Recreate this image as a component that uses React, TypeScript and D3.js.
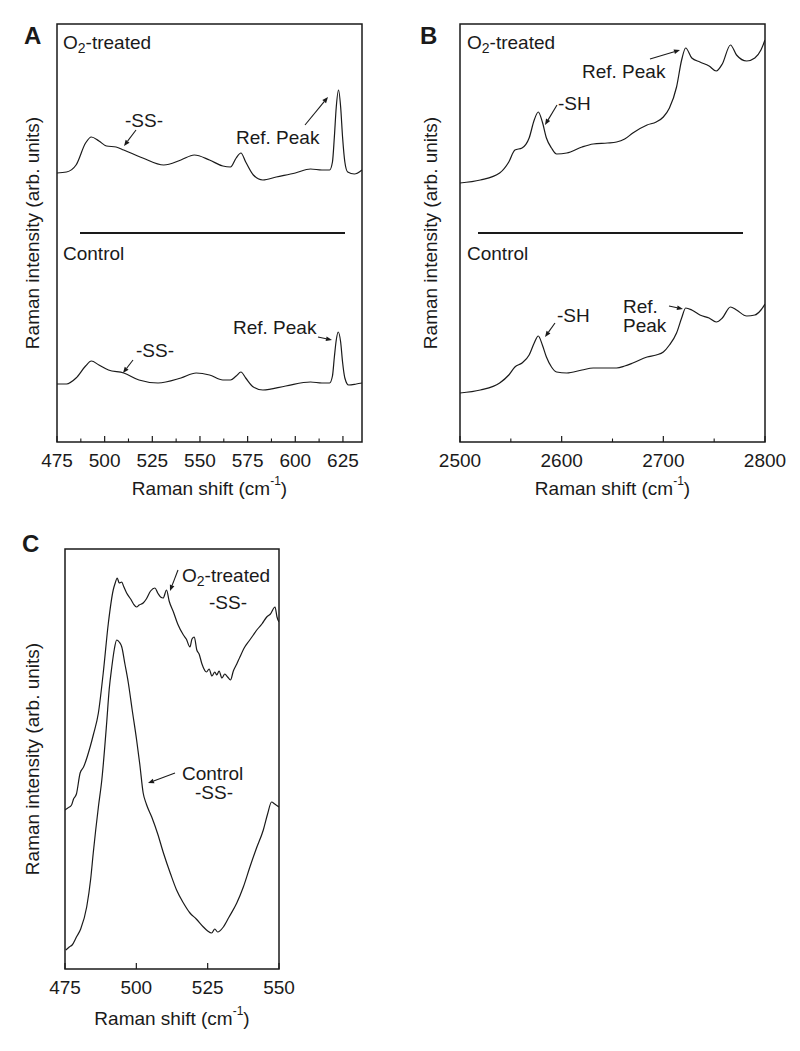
import React from "react";
import * as d3 from "d3";

// ---------- Data (arb. units) ----------
const aO2X = [475,480,485,490,493,497,501,506,510,520,531,540,547,555,562,566,569,571.5,574,578,583,590,600,608,614,618,619.5,620.5,621.5,622.7,623.8,624.8,626,627.5,631,635];
const aO2Y = [269,270,277,299,305,301,296,295,292,284,277,282,287,282,276,275,284,289,280,267,262,265,269,273,272,272,280,305,335,352,335,305,280,270,268,272];
const aCtX = [475,480,485,490,493,497,502,510,518,528,540,548,555,562,566,569,571.5,574,578,583,595,608,614,618,619.5,620.5,621.5,622.5,623.8,624.8,626,628,632,635];
const aCtY = [58,58,64,76,81,77,72,69,62,59,64,69,67,62,62,66,70,64,55,52,56,60,59,59,66,85,102,110,100,80,64,57,58,59];

const bO2X = [2500,2520,2539,2548,2554,2561,2568,2573,2577,2581,2585,2590,2595,2605,2620,2631,2645,2654,2662,2670,2684,2693,2700,2706,2713,2718,2722,2728,2736,2745,2752,2758,2766,2772,2782,2790,2796,2800];
const bO2Y = [259,262,269,280,292,294,304,322,330,320,304,294,288,289,295,298,299,300,303,309,317,320,325,334,355,382,394,384,380,376,371,378,397,387,381,384,392,402];
const bCtX = [2500,2520,2539,2548,2554,2561,2568,2573,2577,2581,2585,2590,2595,2605,2620,2631,2654,2662,2670,2684,2693,2700,2706,2713,2718,2722,2728,2736,2745,2752,2758,2766,2772,2782,2790,2796,2800];
const bCtY = [49,52,59,67,75,79,87,99,106,97,85,75,70,69,72,74,74,76,79,85,87,90,97,109,124,134,132,127,124,120,124,135,132,126,127,132,138];

const cO2X = [475,476,477.3,478,479,480.3,481.5,483.8,485,486.7,488.4,490.2,491.9,492.6,493.3,494,494.9,495.5,496.6,498,499,500.1,501,502.4,503.5,505,506.5,507.5,508.5,509.4,510.6,511.5,513,514.5,516.5,517.5,518.8,519.5,520.3,521.2,522,523,524.6,525.5,526.5,527.5,528.2,529,530,531,532,533,534,535.2,536.3,538,539.5,541,542.5,544,545.7,547,548.6,549.3,550];
const cO2Y = [159,161,164,170,175,196,202,222,235,256,296,346,379,386,391,386,387,383,376,370,365,362,364,366,370,378,381,376,372,371,379,368,357,345,334,330,322,330,332,319,315,305,297,300,293,297,294,298,291,295,292,289,298,305,312,322,328,334,340,345,352,355,362,352,347];
const cCtX = [475.3,476.5,477.5,479,480.5,482.6,484,484.9,486.7,487.9,489.6,490.5,491.4,492.3,493.1,494,494.9,496,497.2,498.5,500.1,501.2,502.4,503.5,505.4,507.5,509.5,512,514.1,516.5,518.8,521,523.5,525,526.4,527.5,528.5,530.5,532.5,535.2,537.5,539.8,542,544.5,546,547.4,548.5,550];
const cCtY = [19,22,24,32,40,62,90,116,162,189,246,280,302,320,329,327,322,305,286,260,229,205,176,165,152,135,116,95,79,66,56,50,42,38,36,40,37,42,52,66,82,102,120,139,155,167,165,162];

const aTicks = [475,500,525,550,575,600,625];
const bTicks = [2500,2600,2700,2800];
const cTicks = [475,500,525,550];

const FONT = "'Liberation Sans', Arial, Helvetica, sans-serif";
const INK = "#1a1a1a";
const FS = 19;

type Pt = [number, number];
const zip = (xs: number[], ys: number[]): Pt[] => xs.map((x, i) => [x, ys[i]]);

function Arrow({ x1, y1, x2, y2 }: { x1: number; y1: number; x2: number; y2: number }) {
  const ang = Math.atan2(y2 - y1, x2 - x1);
  const L = 6, W = 2.4;
  const bx = x2 - L * Math.cos(ang), by = y2 - L * Math.sin(ang);
  const px = -Math.sin(ang) * W, py = Math.cos(ang) * W;
  return (
    <g>
      <line x1={x1} y1={y1} x2={bx} y2={by} stroke={INK} strokeWidth={1.1} />
      <polygon points={`${x2},${y2} ${bx + px},${by + py} ${bx - px},${by - py}`} fill={INK} />
    </g>
  );
}

function O2Label({ x, y }: { x: number; y: number }) {
  return (
    <text x={x} y={y} fontSize={FS} fontFamily={FONT} fill={INK} dominantBaseline="central">
      O<tspan fontSize={14} dy={6}>2</tspan><tspan dy={-6}>-treated</tspan>
    </text>
  );
}

function Panel(props: {
  left: number; right: number; top: number; bottom: number;
  domain: [number, number]; yMax: number; ticks: number[]; minor: number[];
  series: Pt[][]; tickY: number; titleY: number; yTitleX: number;
  letter: string; letterX: number; letterY: number; children?: React.ReactNode;
}) {
  const { left, right, top, bottom, domain, yMax, ticks, minor, series } = props;
  const x = d3.scaleLinear().domain(domain).range([left, right]);
  const y = d3.scaleLinear().domain([0, yMax]).range([bottom, top]);
  const line = d3.line<Pt>().x(d => x(d[0])).y(d => y(d[1])).curve(d3.curveMonotoneX);
  const cy = (top + bottom) / 2;
  return (
    <g>
      <defs>
        <clipPath id={`clip-${props.letter}`}>
          <rect x={left} y={top} width={right - left} height={bottom - top} />
        </clipPath>
      </defs>
      <g clipPath={`url(#clip-${props.letter})`}>
        {series.map((s, i) => (
          <path key={i} d={line(s) || ""} fill="none" stroke={INK} strokeWidth={1.2} />
        ))}
      </g>
      <rect x={left} y={top} width={right - left} height={bottom - top} fill="none" stroke={INK} strokeWidth={1.5} />
      {ticks.map(t => (
        <g key={"t" + t}>
          <line x1={x(t)} x2={x(t)} y1={bottom} y2={bottom - 6} stroke={INK} strokeWidth={1.2} />
          <text x={x(t)} y={props.tickY} textAnchor="middle" dominantBaseline="central" fontSize={FS} fontFamily={FONT} fill={INK}>{t}</text>
        </g>
      ))}
      {minor.map(t => (
        <line key={"m" + t} x1={x(t)} x2={x(t)} y1={bottom} y2={bottom - 3.5} stroke={INK} strokeWidth={1.1} />
      ))}
      <text x={(left + right) / 2} y={props.titleY} textAnchor="middle" dominantBaseline="central" fontSize={FS} fontFamily={FONT} fill={INK}>
        Raman shift (cm<tspan fontSize={12} dy={-7}>-1</tspan><tspan dy={7}>)</tspan>
      </text>
      <text transform={`translate(${props.yTitleX},${cy}) rotate(-90)`} textAnchor="middle" dominantBaseline="central" fontSize={FS} fontFamily={FONT} fill={INK}>
        Raman intensity (arb. units)
      </text>
      <text x={props.letterX} y={props.letterY} fontSize={24} fontWeight="bold" fontFamily={FONT} fill={INK} dominantBaseline="central">{props.letter}</text>
      {props.children}
    </g>
  );
}

export default function App() {
  const txt = (x: number, y: number, s: string, anchor: "start" | "middle" = "start") => (
    <text x={x} y={y} fontSize={FS} fontFamily={FONT} fill={INK} dominantBaseline="central" textAnchor={anchor}>{s}</text>
  );
  return (
    <svg width={800} height={1051} style={{ position: "absolute", left: 0, top: 0, background: "#fff" }}>
      <rect width={800} height={1051} fill="#fff" />
      {/* Panel A */}
      <Panel left={57} right={362} top={24} bottom={442} domain={[475, 635]} yMax={418}
        ticks={aTicks} minor={[487.5, 512.5, 537.5, 562.5, 587.5, 612.5]}
        series={[zip(aO2X, aO2Y), zip(aCtX, aCtY)]}
        tickY={460} titleY={488} yTitleX={32} letter="A" letterX={24} letterY={35}>
        <O2Label x={63} y={42} />
        <line x1={80} x2={345} y1={233} y2={233} stroke={INK} strokeWidth={2} />
        {txt(63, 253, "Control")}
        {txt(144, 120, "-SS-", "middle")}
        <Arrow x1={136} y1={130} x2={124} y2={146} />
        {txt(236, 137, "Ref. Peak")}
        <Arrow x1={305} y1={125} x2={328} y2={97} />
        {txt(155, 350, "-SS-", "middle")}
        <Arrow x1={133} y1={360} x2={123} y2={373} />
        {txt(233, 327, "Ref. Peak")}
        <Arrow x1={318} y1={337} x2={332} y2={340} />
      </Panel>
      {/* Panel B */}
      <Panel left={460} right={765} top={24} bottom={442} domain={[2500, 2800]} yMax={418}
        ticks={bTicks} minor={[2550, 2650, 2750]}
        series={[zip(bO2X, bO2Y), zip(bCtX, bCtY)]}
        tickY={460} titleY={488} yTitleX={430} letter="B" letterX={420} letterY={35}>
        <O2Label x={467} y={42} />
        <line x1={478} x2={743} y1={233} y2={233} stroke={INK} strokeWidth={2} />
        {txt(467, 253, "Control")}
        {txt(558, 103, "-SH")}
        <Arrow x1={557} y1={105} x2={545} y2={125} />
        {txt(582, 71, "Ref. Peak")}
        <Arrow x1={650} y1={59} x2={680} y2={50} />
        {txt(557, 315, "-SH")}
        <Arrow x1={555} y1={323} x2={545} y2={337} />
        {txt(623, 306, "Ref.")}
        {txt(623, 325, "Peak")}
        <Arrow x1={669} y1={306} x2={683} y2={309} />
      </Panel>
      {/* Panel C */}
      <Panel left={65} right={279} top={549} bottom={969} domain={[475, 550]} yMax={420}
        ticks={cTicks} minor={[]}
        series={[zip(cO2X, cO2Y), zip(cCtX, cCtY)]}
        tickY={987} titleY={1018} yTitleX={32} letter="C" letterX={22} letterY={543}>
        <O2Label x={182} y={575} />
        {txt(228, 602, "-SS-", "middle")}
        <Arrow x1={178} y1={570} x2={170} y2={591} />
        {txt(182, 773, "Control")}
        {txt(214, 792, "-SS-", "middle")}
        <Arrow x1={175} y1={773} x2={148} y2={783} />
      </Panel>
    </svg>
  );
}
